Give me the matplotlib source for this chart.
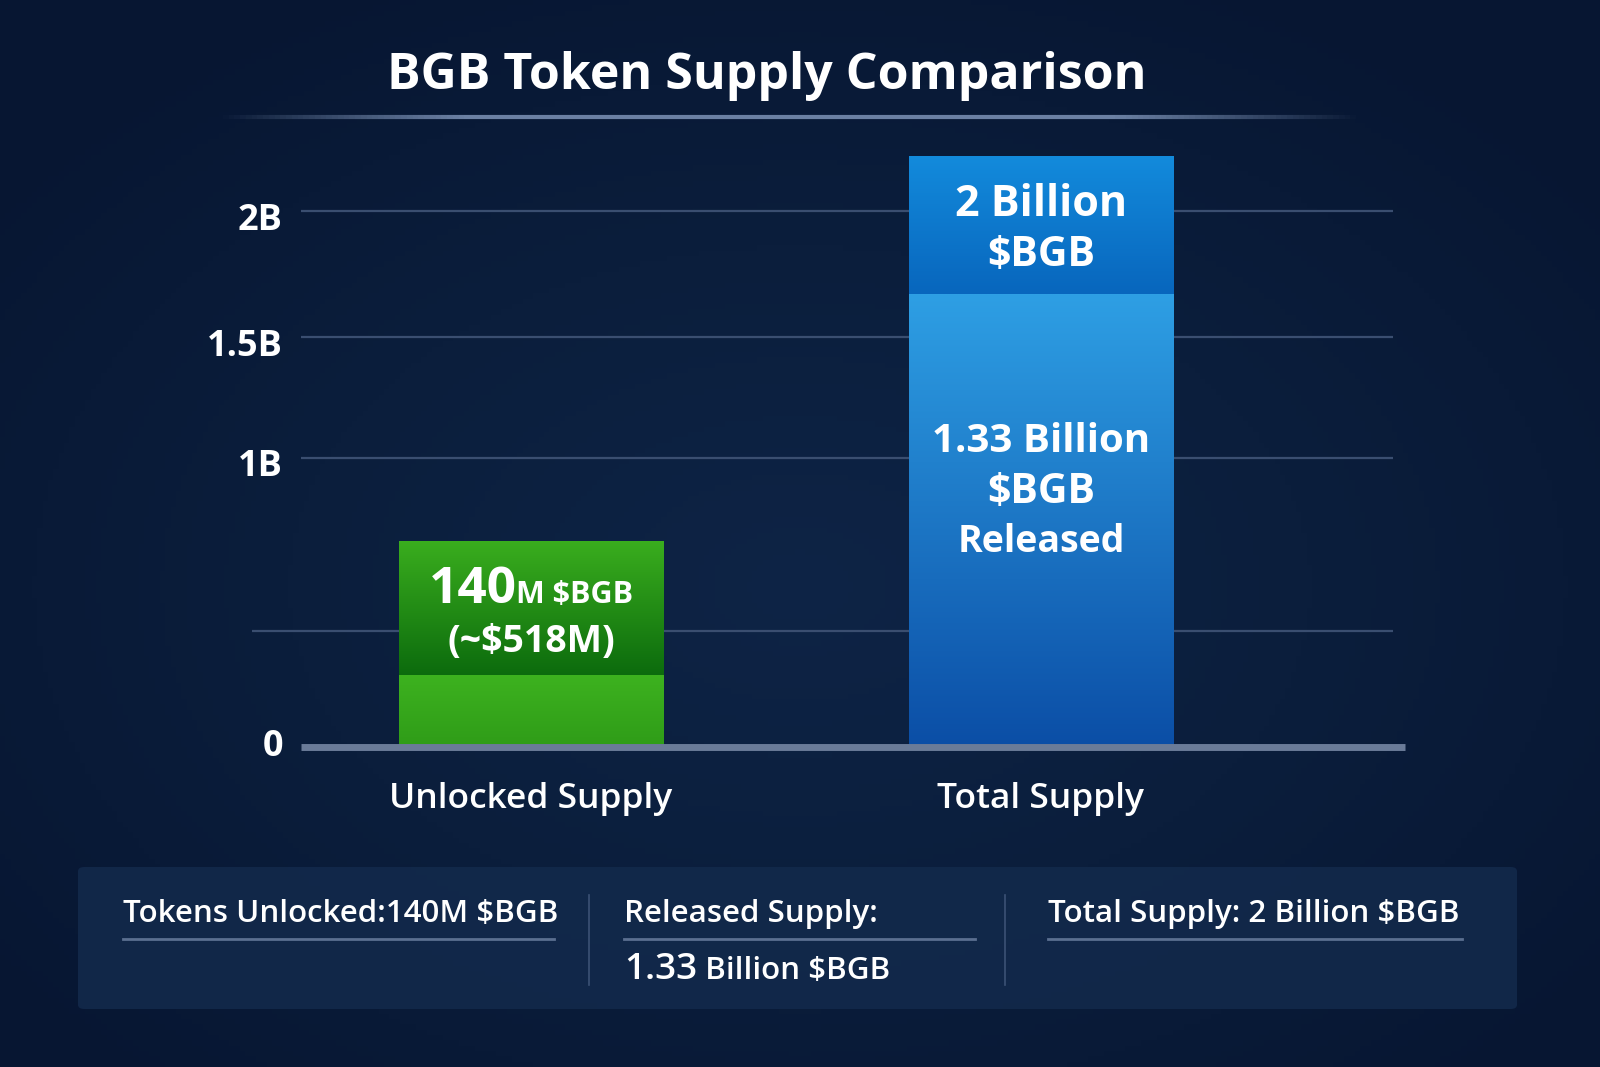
import numpy as np
import matplotlib
matplotlib.use('Agg')
import matplotlib.pyplot as plt
from matplotlib.patches import FancyBboxPatch
from matplotlib.colors import LinearSegmentedColormap
from matplotlib.collections import LineCollection
from matplotlib.transforms import ScaledTranslation

plt.rcParams['font.family'] = ['Open Sans', 'DejaVu Sans']

# values (billions)
categories = ['Unlocked Supply', 'Total Supply']
lower_part = [0.31, 1.67]
bar_top = [0.76, 2.22]
grid_values = [0.5, 1.0, 1.5, 2.0]
tick_values = [0, 1.0, 1.5, 2.0]
tick_labels = ['0', '1B', '1.5B', '2B']

# the axis in the picture is not linear: value -> px above the baseline
scale_values = [0, 0.5, 1.0, 1.5, 2.0, 2.5]
scale_px = [0, 116, 289, 410, 536, 662]

W, H, DPI = 1600, 1067, 100
BG = '#0b1d3b'
WHITE = '#ffffff'


def fwd(v):
    v = np.asarray(v, dtype=float)
    out = np.interp(v, scale_values, scale_px)
    lo = (scale_px[1] - scale_px[0]) / (scale_values[1] - scale_values[0])
    hi = (scale_px[-1] - scale_px[-2]) / (scale_values[-1] - scale_values[-2])
    out = np.where(v < scale_values[0], scale_px[0] + (v - scale_values[0]) * lo, out)
    out = np.where(v > scale_values[-1], scale_px[-1] + (v - scale_values[-1]) * hi, out)
    return out


def inv(p):
    p = np.asarray(p, dtype=float)
    out = np.interp(p, scale_px, scale_values)
    lo = (scale_values[1] - scale_values[0]) / (scale_px[1] - scale_px[0])
    hi = (scale_values[-1] - scale_values[-2]) / (scale_px[-1] - scale_px[-2])
    out = np.where(p < scale_px[0], scale_values[0] + (p - scale_px[0]) * lo, out)
    out = np.where(p > scale_px[-1], scale_values[-1] + (p - scale_px[-1]) * hi, out)
    return out


fig = plt.figure(figsize=(W / DPI, H / DPI), dpi=DPI)

# background with soft vignette
bg = fig.add_axes([0, 0, 1, 1], zorder=-10)
yy, xx = np.mgrid[0:1:200j, 0:1:300j]
r = np.sqrt(((xx - 0.5) / 0.8) ** 2 + ((yy - 0.55) / 0.8) ** 2)
bg_cmap = LinearSegmentedColormap.from_list('bg', ['#0e2446', '#0b1e3c', '#071632'])
bg.imshow(r, cmap=bg_cmap, aspect='auto', extent=(0, 1, 0, 1), vmin=0, vmax=0.8)
bg.set_axis_off()


def fx(px):
    return px / W


def fy(px):
    return 1 - px / H


# title and its fading rule
fig.text(fx(767), fy(76), 'BGB Token Supply Comparison', ha='center', va='center',
         fontsize=36, fontweight='bold', color=WHITE)
xs = np.linspace(fx(217), fx(1362), 200)
segs = [[(xs[i], fy(117)), (xs[i + 1], fy(117))] for i in range(len(xs) - 1)]
alpha = np.clip(np.sin(np.linspace(0, np.pi, len(segs))) * 1.6, 0, 1)
cols = [(0.42, 0.50, 0.64, a) for a in alpha]
fig.add_artist(LineCollection(segs, colors=cols, linewidths=3, transform=fig.transFigure))

# main axes
y_top = 2.4
ax = fig.add_axes([fx(301), 1 - 747 / H, (1405 - 301) / W, float(fwd(y_top)) / H])
ax.set_facecolor('none')
ax.set_yscale('function', functions=(fwd, inv))
ax.set_autoscale_on(False)
ax.set_xlim(-0.451, 1.714)
ax.set_ylim(0, y_top)
for s in ax.spines.values():
    s.set_visible(False)

x = np.arange(len(categories))
width = 0.518

# gridlines (unlabelled one reaches further left)
for g in grid_values:
    x0 = -0.547 if g not in tick_values else -0.451
    ax.hlines(g, x0, 1.69, color='#3a4e70', lw=1.6, zorder=1, clip_on=False)

lower = ax.bar(x, lower_part, width, color=['#38a91c', '#1f7fd0'], zorder=2)
upper = ax.bar(x, np.array(bar_top) - np.array(lower_part), width, bottom=lower_part,
               color=['#1f8a17', '#0b78cf'], zorder=2)

ax.hlines(0, -0.451, 1.714, color='#6a7b98', lw=5, zorder=4, clip_on=False)

ax.set_yticks(tick_values)
ax.set_yticklabels(tick_labels)
ax.tick_params(axis='y', length=0, pad=13, labelsize=26, labelcolor=WHITE)
for v, lab in zip(tick_values, ax.get_yticklabels()):
    lab.set_fontweight('bold')
    shift = 5 if v == 0 else -5
    lab.set_transform(lab.get_transform() + ScaledTranslation(0, shift / DPI, fig.dpi_scale_trans))
ax.set_xticks(x)
ax.set_xticklabels(categories)
ax.tick_params(axis='x', length=0, pad=25, labelsize=25.5, labelcolor=WHITE)
for lab in ax.get_xticklabels():
    lab.set_fontweight('semibold')

to_axes = ax.transData + ax.transAxes.inverted()


def gradient(patch, top_color, bottom_color):
    px0, py0 = patch.get_x(), patch.get_y()
    (a0, b0), (a1, b1) = to_axes.transform([[px0, py0],
                                             [px0 + patch.get_width(), py0 + patch.get_height()]])
    cm = LinearSegmentedColormap.from_list('g', [bottom_color, top_color])
    im = ax.imshow(np.linspace(0, 1, 256).reshape(-1, 1), cmap=cm, origin='lower',
                   extent=(a0, a1, b0, b1), aspect='auto', transform=ax.transAxes, zorder=2.5)
    im.set_clip_path(patch)


gradient(lower[0], '#3db21f', '#2f9c18')
gradient(upper[0], '#3aae1e', '#0c6b0d')
gradient(lower[1], '#2e9fe4', '#0b4ea6')
gradient(upper[1], '#138bdc', '#0866bd')

renderer = fig.canvas.get_renderer()
PT = 72 / DPI


def centered_run(xv, yv, dy_px, pieces):
    objs = []
    for s, fs in pieces:
        t = ax.annotate(s, (xv, yv), xytext=(0, -dy_px * PT), textcoords='offset points',
                        ha='left', va='baseline', fontsize=fs, fontweight='bold',
                        color=WHITE, zorder=5)
        objs.append(t)
    ws = [t.get_window_extent(renderer).width for t in objs]
    start = -sum(ws) / 2
    for t, w in zip(objs, ws):
        t.set_position((start * PT, -dy_px * PT))
        start += w


# labels inside the bars (offsets: px below the segment top to the baseline)
centered_run(x[0], bar_top[0], 62, [('140', 37), ('M $BGB', 22)])
centered_run(x[0], bar_top[0], 111, [('(~$518M)', 27)])
centered_run(x[1], bar_top[1], 60, [('2 Billion', 31)])
centered_run(x[1], bar_top[1], 110, [('$BGB', 29.5)])
centered_run(x[1], lower_part[1], 158, [('1.33 Billion', 29)])
centered_run(x[1], lower_part[1], 209, [('$BGB', 29.5)])
centered_run(x[1], lower_part[1], 258, [('Released', 27)])

# bottom summary panel
panel = FancyBboxPatch((fx(78), fy(1009)), fx(1517 - 78), (1009 - 867) / H,
                       boxstyle='round,pad=0,rounding_size=0.004', transform=fig.transFigure,
                       facecolor='#132a4c', edgecolor='none', alpha=0.85, zorder=1)
fig.add_artist(panel)

for sx in [589, 1005]:
    fig.add_artist(plt.Line2D([fx(sx), fx(sx)], [fy(895), fy(985)], color='#3c5275', lw=1.2,
                              transform=fig.transFigure, zorder=2))
for l, rgt in [(123, 554), (624, 975), (1048, 1462)]:
    fig.add_artist(plt.Line2D([fx(l), fx(rgt)], [fy(939), fy(939)], color='#5b6f90', lw=2,
                              transform=fig.transFigure, zorder=2))


def left_run(lx, cy, pieces):
    xpos = fx(lx)
    for s, fs in pieces:
        t = fig.text(xpos, fy(cy), s, ha='left', va='baseline', fontsize=fs,
                     fontweight='semibold', color=WHITE, zorder=3)
        xpos += t.get_window_extent(renderer).width / W


left_run(123, 922, [('Tokens Unlocked:140M $BGB', 22.5)])
left_run(624, 922, [('Released Supply:', 22.5)])
left_run(1048, 922, [('Total Supply: 2 Billion $BGB', 22.5)])
left_run(624, 979, [('1.33', 26.5), (' Billion $BGB', 22.5)])

fig.savefig('out.png', dpi=DPI, facecolor=BG)
